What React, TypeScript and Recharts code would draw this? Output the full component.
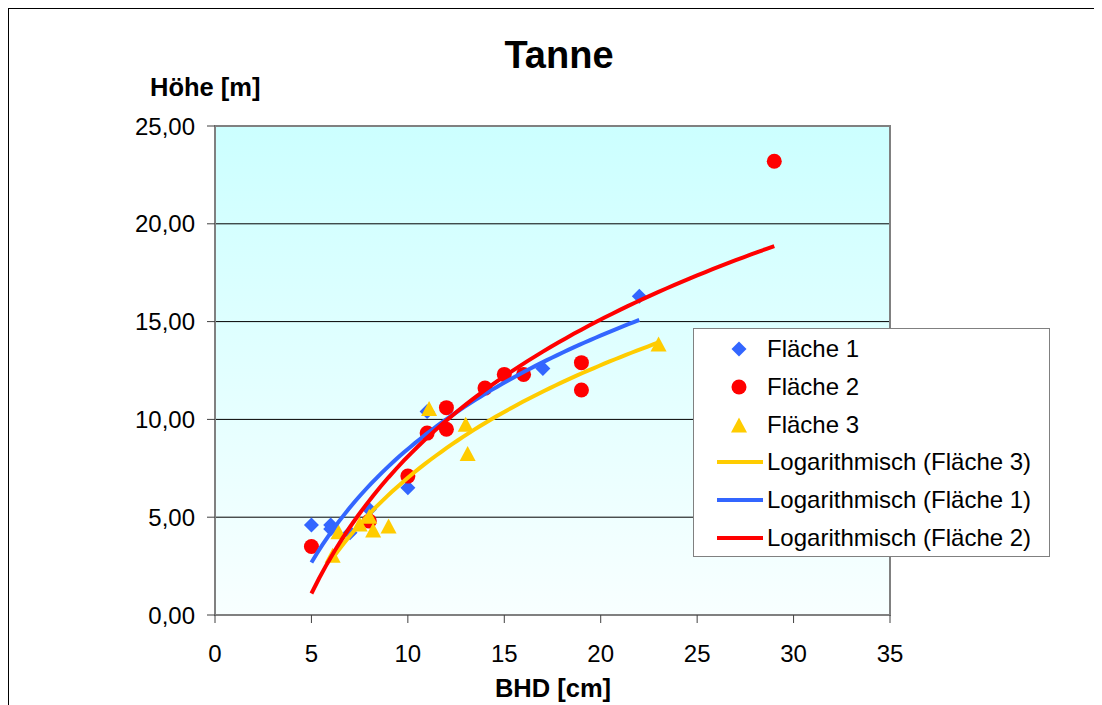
import { CartesianGrid, ReferenceArea, Scatter, ScatterChart, XAxis, YAxis } from 'recharts'

// BHD [cm] / Höhe [m] per plot
const flaeche1X = [5, 6, 6, 7, 8, 10, 11, 17, 22]
const flaeche1Y = [4.6, 4.6, 4.4, 4.2, 5.4, 6.5, 10.4, 12.6, 16.3]
const flaeche2X = [5, 8, 10, 11, 12, 12, 14, 15, 16, 19, 19, 29]
const flaeche2Y = [3.5, 4.8, 7.1, 9.3, 9.5, 10.6, 11.6, 12.3, 12.3, 12.9, 11.5, 23.2]
const flaeche3X = [6.1, 6.4, 7.5, 8, 8.2, 9, 11.1, 13, 13.1, 23]
const flaeche3Y = [3.0, 4.2, 4.6, 5.0, 4.3, 4.5, 10.5, 9.7, 8.2, 13.8]

const xTicks = [0, 5, 10, 15, 20, 25, 30, 35]
const yTicks = [0, 5, 10, 15, 20, 25]
const gridValues = [5, 10, 15, 20]

const BLUE = '#3366FF'
const RED = '#FF0000'
const GOLD = '#FFCC00'
const FONT = 'Arial, "Liberation Sans", sans-serif'

const toPoints = (xs: number[], ys: number[]) => xs.map((x, i) => ({ x, y: ys[i] }))

// Excel-style logarithmic trendline: least squares fit of y = a*ln(x) + b on the series
function logTrend(xs: number[], ys: number[]) {
  const lx = xs.map((x) => Math.log(x))
  const n = xs.length
  const mx = lx.reduce((s, v) => s + v, 0) / n
  const my = ys.reduce((s, v) => s + v, 0) / n
  let sxy = 0
  let sxx = 0
  lx.forEach((v, i) => {
    sxy += (v - mx) * (ys[i] - my)
    sxx += (v - mx) * (v - mx)
  })
  const a = sxy / sxx
  const b = my - a * mx
  const lo = Math.min(...xs)
  const hi = Math.max(...xs)
  const steps = 60
  const pts = []
  for (let i = 0; i <= steps; i++) {
    const x = lo + ((hi - lo) * i) / steps
    pts.push({ x, y: a * Math.log(x) + b })
  }
  return pts
}

const data1 = toPoints(flaeche1X, flaeche1Y)
const data2 = toPoints(flaeche2X, flaeche2Y)
const data3 = toPoints(flaeche3X, flaeche3Y)
const trend1 = logTrend(flaeche1X, flaeche1Y)
const trend2 = logTrend(flaeche2X, flaeche2Y)
const trend3 = logTrend(flaeche3X, flaeche3Y)

interface ShapeProps {
  cx?: number
  cy?: number
}

const Diamond = ({ cx = 0, cy = 0 }: ShapeProps) => (
  <polygon points={`${cx},${cy - 7.5} ${cx + 7.5},${cy} ${cx},${cy + 7.5} ${cx - 7.5},${cy}`} fill={BLUE} />
)
const Dot = ({ cx = 0, cy = 0 }: ShapeProps) => <circle cx={cx} cy={cy} r={7.5} fill={RED} />
const Triangle = ({ cx = 0, cy = 0 }: ShapeProps) => (
  <polygon points={`${cx},${cy - 8.5} ${cx + 8},${cy + 6.5} ${cx - 8},${cy + 6.5}`} fill={GOLD} />
)
const NoShape = () => <g />

const legendItems = [
  { label: 'Fläche 1', kind: 'diamond', color: BLUE },
  { label: 'Fläche 2', kind: 'circle', color: RED },
  { label: 'Fläche 3', kind: 'triangle', color: GOLD },
  { label: 'Logarithmisch (Fläche 3)', kind: 'line', color: GOLD },
  { label: 'Logarithmisch (Fläche 1)', kind: 'line', color: BLUE },
  { label: 'Logarithmisch (Fläche 2)', kind: 'line', color: RED },
]

const LegendIcon = ({ kind, color }: { kind: string; color: string }) => (
  <svg width={60} height={20} style={{ position: 'absolute', left: 15, top: 9 }}>
    {kind === 'diamond' && <Diamond cx={30} cy={10} />}
    {kind === 'circle' && <Dot cx={30} cy={10} />}
    {kind === 'triangle' && <Triangle cx={30} cy={11} />}
    {kind === 'line' && <line x1={8} x2={54} y1={10} y2={10} stroke={color} strokeWidth={4} />}
  </svg>
)

const yFormat = (v: number) => v.toFixed(2).replace('.', ',')

export default function App() {
  return (
    <div
      style={{
        position: 'relative',
        width: 1094,
        height: 697,
        background: '#fff',
        fontFamily: FONT,
      }}
    >
      {/* outer frame, only top and left edges are inside the picture */}
      <div style={{ position: 'absolute', left: 0, top: -1, width: 1094, height: 2, background: '#000' }} />
      <div style={{ position: 'absolute', left: 0, top: -1, width: 1, height: 698, background: '#000' }} />
      <svg width={0} height={0} style={{ position: 'absolute' }}>
        <defs>
          <linearGradient id="plotBg" x1="0" y1="0" x2="0" y2="1">
            <stop offset="0%" stopColor="#CCFFFF" />
            <stop offset="100%" stopColor="#F8FFFF" />
          </linearGradient>
        </defs>
      </svg>
      <div style={{ position: 'absolute', left: 1, top: 0 }}>
        <ScatterChart
          width={1093}
          height={697}
          margin={{ top: 118, right: 212, bottom: 0, left: 0 }}
        >
          <CartesianGrid
            vertical={false}
            horizontalValues={gridValues}
            stroke="#000"
            strokeWidth={1}
            fill="url(#plotBg)"
            fillOpacity={1}
          />
          <XAxis
            type="number"
            dataKey="x"
            domain={[0, 35]}
            ticks={xTicks}
            interval={0}
            height={90}
            tickSize={8}
            tickMargin={22}
            axisLine={{ stroke: '#808080', strokeWidth: 2 }}
            tickLine={{ stroke: '#404040' }}
            tick={{ fill: '#000', fontSize: 24, fontFamily: FONT }}
            allowDataOverflow
          />
          <YAxis
            type="number"
            dataKey="y"
            domain={[0, 25]}
            ticks={yTicks}
            interval={0}
            width={206}
            tickSize={8}
            tickMargin={12}
            tickFormatter={yFormat}
            axisLine={{ stroke: '#808080', strokeWidth: 2 }}
            tickLine={{ stroke: '#404040' }}
            tick={{ fill: '#000', fontSize: 24, fontFamily: FONT }}
            allowDataOverflow
          />
          <ReferenceArea x1={0} x2={35} y1={0} y2={25} fill="none" stroke="#808080" strokeWidth={2} />
          <Scatter name="Fläche 1" data={data1} shape={<Diamond />} isAnimationActive={false} />
          <Scatter name="Fläche 2" data={data2} shape={<Dot />} isAnimationActive={false} />
          <Scatter name="Fläche 3" data={data3} shape={<Triangle />} isAnimationActive={false} />
          <Scatter
            name="Logarithmisch (Fläche 3)"
            data={trend3}
            shape={NoShape}
            line={{ stroke: GOLD, strokeWidth: 4 }}
            isAnimationActive={false}
          />
          <Scatter
            name="Logarithmisch (Fläche 1)"
            data={trend1}
            shape={NoShape}
            line={{ stroke: BLUE, strokeWidth: 4 }}
            isAnimationActive={false}
          />
          <Scatter
            name="Logarithmisch (Fläche 2)"
            data={trend2}
            shape={NoShape}
            line={{ stroke: RED, strokeWidth: 4 }}
            isAnimationActive={false}
          />
        </ScatterChart>
      </div>

      <div
        style={{
          position: 'absolute',
          left: 451,
          top: 25,
          width: 200,
          height: 44,
          lineHeight: '44px',
          textAlign: 'center',
          fontSize: 38,
          fontWeight: 'bold',
        }}
      >
        Tanne
      </div>
      <div
        style={{
          position: 'absolute',
          left: 142,
          top: 64,
          height: 30,
          lineHeight: '30px',
          fontSize: 25.5,
          fontWeight: 'bold',
          whiteSpace: 'nowrap',
        }}
      >
        Höhe [m]
      </div>
      <div
        style={{
          position: 'absolute',
          left: 445,
          top: 665,
          width: 200,
          height: 30,
          lineHeight: '30px',
          textAlign: 'center',
          fontSize: 25.5,
          fontWeight: 'bold',
        }}
      >
        BHD [cm]
      </div>

      <div
        style={{
          position: 'absolute',
          left: 685,
          top: 320,
          width: 357,
          height: 229,
          boxSizing: 'border-box',
          border: '1px solid #808080',
          background: '#fff',
          paddingTop: 1,
        }}
      >
        {legendItems.map((it) => (
          <div key={it.label} style={{ position: 'relative', height: 37.8, lineHeight: '37.8px' }}>
            <LegendIcon kind={it.kind} color={it.color} />
            <span style={{ position: 'absolute', left: 73, fontSize: 24, whiteSpace: 'nowrap' }}>{it.label}</span>
          </div>
        ))}
      </div>
    </div>
  )
}
